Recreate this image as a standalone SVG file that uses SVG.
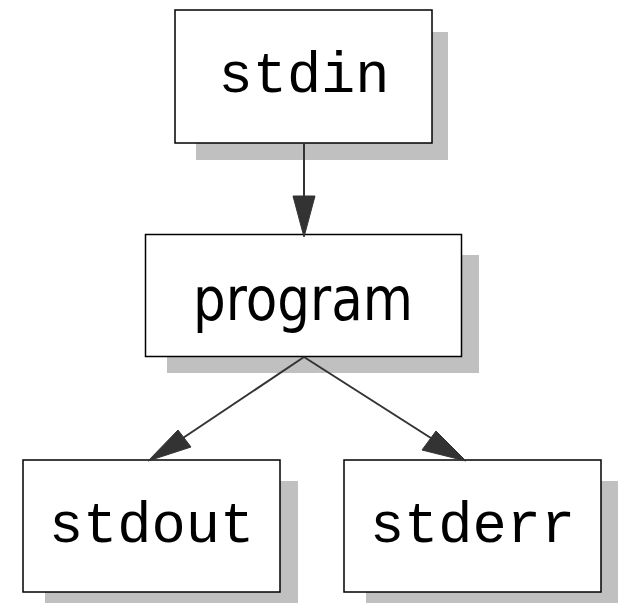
<svg xmlns="http://www.w3.org/2000/svg" width="618" height="603" viewBox="0 0 618 603">
  <style>
    .shadow { fill: #c0c0c0; stroke: none; }
    .box { fill: #ffffff; stroke: #000000; stroke-width: 1.5; }
    .mono { font-family: "Liberation Mono", "DejaVu Sans Mono", monospace; font-size: 57px; fill: #000; text-anchor: middle; }
    .sans { font-family: "DejaVu Sans", "Noto Sans", sans-serif; font-size: 60px; fill: #000; text-anchor: middle; }
    .edge { stroke: #333333; stroke-width: 2; fill: none; }
    .head { fill: #333333; stroke: #333333; stroke-width: 1; }
  </style>
  <rect width="618" height="603" fill="#ffffff"/>

  <g id="stdin">
    <rect class="shadow" x="196" y="32" width="252" height="128"/>
    <rect class="box" x="175" y="10" width="257" height="133"/>
    <text class="mono" x="304" y="92">stdin</text>
  </g>

  <g id="program">
    <rect class="shadow" x="167" y="255" width="312" height="118"/>
    <rect class="box" x="145.5" y="234.5" width="316" height="122"/>
    <text class="sans" x="303" y="320" textLength="220" lengthAdjust="spacingAndGlyphs">program</text>
  </g>

  <g id="stdout">
    <rect class="shadow" x="45" y="481" width="253" height="130"/>
    <rect class="box" x="23" y="460" width="257" height="132"/>
    <text class="mono" x="151.5" y="542">stdout</text>
  </g>

  <g id="stderr">
    <rect class="shadow" x="366" y="481" width="253" height="130"/>
    <rect class="box" x="344" y="460" width="257" height="132"/>
    <text class="mono" x="472.5" y="542">stderr</text>
  </g>

  <g id="connectors">
    <!-- stdin -> program -->
    <line class="edge" x1="304" y1="143" x2="304" y2="200"/>
    <polygon class="head" points="293,196 315,196 304,237"/>
    <!-- program -> stdout -->
    <line class="edge" x1="304" y1="357" x2="180" y2="440"/>
    <polygon class="head" points="148,461 178,430 191,447"/>
    <!-- program -> stderr -->
    <line class="edge" x1="304" y1="357" x2="434" y2="440"/>
    <polygon class="head" points="466,461 422,450 436,431"/>
  </g>
</svg>
